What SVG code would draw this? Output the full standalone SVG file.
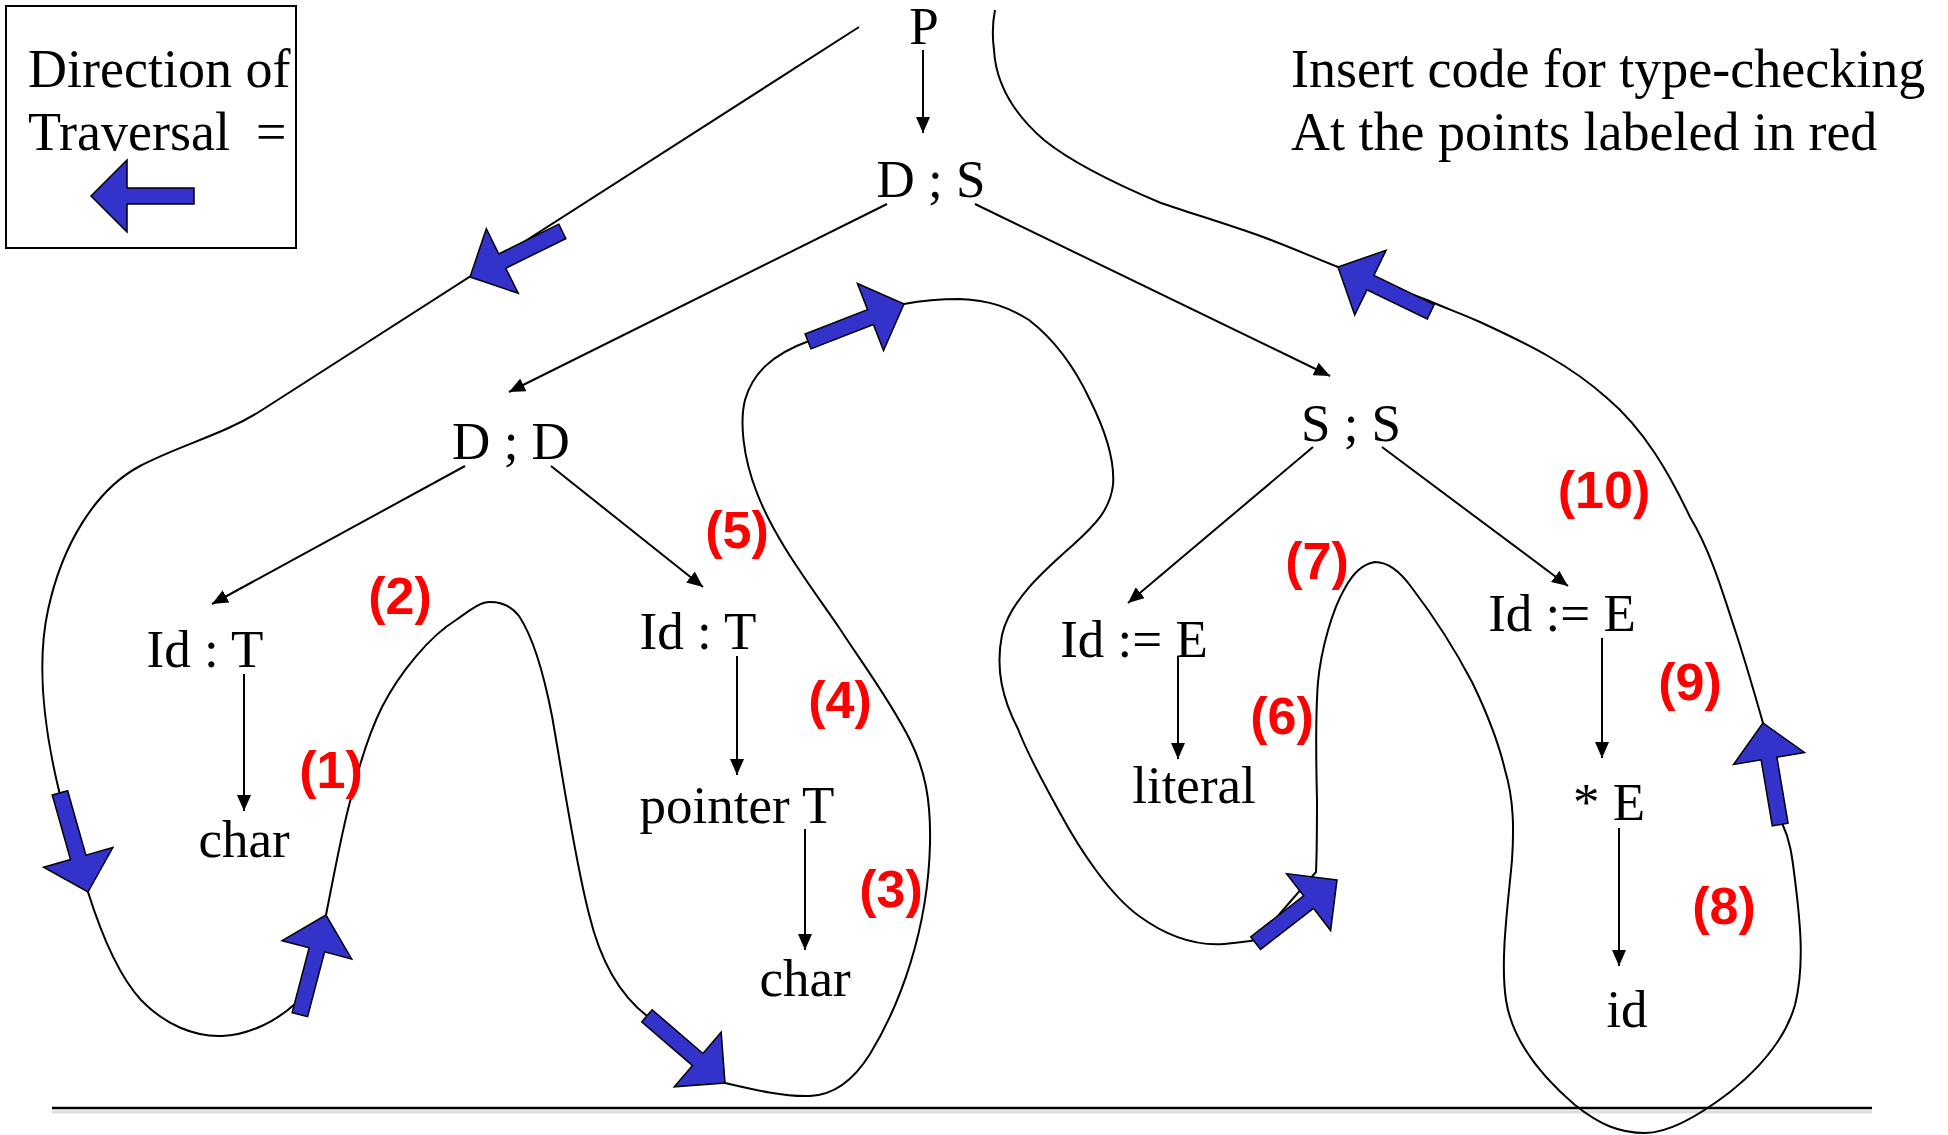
<svg xmlns="http://www.w3.org/2000/svg" width="1948" height="1135" viewBox="0 0 1948 1135">
<style>
.t{font-family:"Liberation Serif","Times New Roman",serif;font-size:53px;fill:#000;text-anchor:middle}
.n{font-family:"Liberation Serif","Times New Roman",serif;font-size:54px;fill:#000}
.r{font-family:"Liberation Sans",Arial,sans-serif;font-size:52px;font-weight:bold;fill:#FF0000;text-anchor:middle}
.e{stroke:#000;stroke-width:2;fill:none;marker-end:url(#ah)}
.c{stroke:#000;stroke-width:2;fill:none}
.b{fill:#3333CC;stroke:#000;stroke-width:1.5;stroke-linejoin:miter}
</style>
<defs>
<marker id="ah" markerUnits="userSpaceOnUse" markerWidth="16" markerHeight="14" refX="16" refY="7" orient="auto">
<path d="M0,0 L16,7 L0,14 z" fill="#000"/>
</marker>
<polygon id="ba" points="0,0 -36,-36 -36,-8 -103,-8 -103,8 -36,8 -36,36"/>
</defs>

<g id="legend">
<rect x="6" y="6" width="290" height="242" fill="none" stroke="#000" stroke-width="2"/>
<text class="n" x="28" y="87">Direction of</text>
<text class="n" x="28" y="150">Traversal</text>
<text class="n" x="256" y="150">=</text>
<use href="#ba" class="b" transform="translate(91,196) rotate(180)"/>
</g>

<g id="note">
<text class="n" x="1291" y="87">Insert code for type-checking</text>
<text class="n" x="1291" y="150">At the points labeled in red</text>
</g>

<g id="baseline">
<line x1="52" y1="1112" x2="1872" y2="1112" stroke="#ddd" stroke-width="3"/>
<line x1="52" y1="1108" x2="1872" y2="1108" stroke="#000" stroke-width="2.5"/>
</g>

<g id="connectors">
<line class="e" x1="923" y1="50" x2="923" y2="133"/>
<line class="e" x1="887" y1="204" x2="509" y2="392"/>
<line class="e" x1="975" y1="204" x2="1330" y2="376"/>
<line class="e" x1="465" y1="466" x2="212" y2="604"/>
<line class="e" x1="551" y1="466" x2="703" y2="587"/>
<line class="e" x1="244" y1="674" x2="244" y2="811"/>
<line class="e" x1="737" y1="656" x2="737" y2="775"/>
<line class="e" x1="805" y1="829" x2="805" y2="950"/>
<line class="e" x1="1313" y1="447" x2="1128" y2="603"/>
<line class="e" x1="1382" y1="447" x2="1568" y2="586"/>
<line class="e" x1="1178" y1="656" x2="1178" y2="759"/>
<line class="e" x1="1602" y1="638" x2="1602" y2="758"/>
<line class="e" x1="1619" y1="828" x2="1619" y2="966"/>
</g>

<g id="traversal">
<path class="c" d="M859,27 L262,410 C225,434 180,445 140,466 C95,490 62,545 48,610 C36,665 44,730 60,795 L88,892 C100,930 118,975 141,1000 C165,1025 195,1037 222,1036 C250,1035 278,1020 296,1003 L326,915 C334,875 342,830 351,798 C358,770 368,735 382,707 C400,672 430,636 456,620 C470,610 480,602 490,602 C503,602 513,608 519,616 C535,640 545,680 552,716 C565,790 575,860 589,914 C600,960 620,995 647,1016 L725,1083 C755,1090 785,1097 810,1096 C835,1095 855,1078 870,1054 C900,1005 928,930 930,844 C931,800 925,770 910,740 C890,700 860,660 840,629 C810,585 775,540 757,493 C742,455 740,420 745,400 C752,375 770,355 809,341 L904,304 C925,300 945,299 960,299 C990,300 1010,308 1029,320 C1055,340 1075,368 1090,400 C1105,430 1115,460 1113,485 C1110,510 1095,525 1073,545 C1045,570 1010,600 1002,635 C995,670 1003,700 1018,729 C1030,760 1045,785 1060,813 C1080,850 1110,895 1139,916 C1165,935 1195,946 1224,944 C1235,943 1245,942 1257,940 L1316,872 C1317,850 1317,835 1317,800 C1316,760 1315,720 1318,682 C1321,650 1332,610 1345,588 C1352,575 1362,564 1375,562 C1390,562 1402,574 1412,588 C1425,605 1450,640 1472,682 C1488,715 1498,740 1505,770 C1514,800 1514,830 1512,860 C1508,905 1500,960 1506,1000 C1512,1040 1540,1075 1575,1105 C1600,1125 1620,1133 1645,1133 C1670,1133 1700,1115 1730,1092 C1760,1068 1785,1040 1795,1005 C1805,965 1800,920 1795,880 C1792,855 1790,840 1782,823 L1763,723 C1755,695 1745,660 1735,630 C1722,590 1710,550 1690,517 C1670,475 1645,430 1607,398 C1570,365 1530,345 1480,322 C1460,313 1445,308 1427,300 L1338,267 C1310,256 1290,247 1263,237 C1230,225 1190,213 1161,203 C1130,190 1075,165 1044,140 C1015,115 996,85 994,50 C992,35 993,20 995,10"/>
<use href="#ba" class="b" transform="translate(470,277) rotate(153.7)"/>
<use href="#ba" class="b" transform="translate(88,892) rotate(74.2)"/>
<use href="#ba" class="b" transform="translate(326,915) rotate(-75.3)"/>
<use href="#ba" class="b" transform="translate(725,1083) rotate(40.7)"/>
<use href="#ba" class="b" transform="translate(904,304) rotate(-21.3)"/>
<use href="#ba" class="b" transform="translate(1337,880) rotate(-37.8)"/>
<use href="#ba" class="b" transform="translate(1763,723) rotate(-99.6)"/>
<use href="#ba" class="b" transform="translate(1338,267) rotate(205.8)"/>
</g>

<g id="node-P"><text class="t" x="924" y="44">P</text></g>
<g id="node-DS"><text class="t" x="931" y="197">D ; S</text></g>
<g id="node-DD"><text class="t" x="511" y="459">D ; D</text></g>
<g id="node-SS"><text class="t" x="1351" y="441">S ; S</text></g>
<g id="node-IdT1"><text class="t" x="205" y="667">Id : T</text></g>
<g id="node-char1"><text class="t" x="244" y="857">char</text></g>
<g id="node-IdT2"><text class="t" x="698" y="649">Id : T</text></g>
<g id="node-pointerT"><text class="t" x="737" y="823">pointer T</text></g>
<g id="node-char2"><text class="t" x="805" y="996">char</text></g>
<g id="node-IdE1"><text class="t" x="1134" y="657">Id := E</text></g>
<g id="node-literal"><text class="t" x="1194" y="803">literal</text></g>
<g id="node-IdE2"><text class="t" x="1562" y="631">Id := E</text></g>
<g id="node-starE"><text class="t" x="1609" y="820">* E</text></g>
<g id="node-id"><text class="t" x="1627" y="1027">id</text></g>

<g id="labels">
<text class="r" x="331" y="788">(1)</text>
<text class="r" x="400" y="614">(2)</text>
<text class="r" x="891" y="907">(3)</text>
<text class="r" x="840" y="718">(4)</text>
<text class="r" x="737" y="548">(5)</text>
<text class="r" x="1282" y="734">(6)</text>
<text class="r" x="1317" y="579">(7)</text>
<text class="r" x="1724" y="924">(8)</text>
<text class="r" x="1690" y="700">(9)</text>
<text class="r" x="1604" y="508">(10)</text>
</g>
</svg>
